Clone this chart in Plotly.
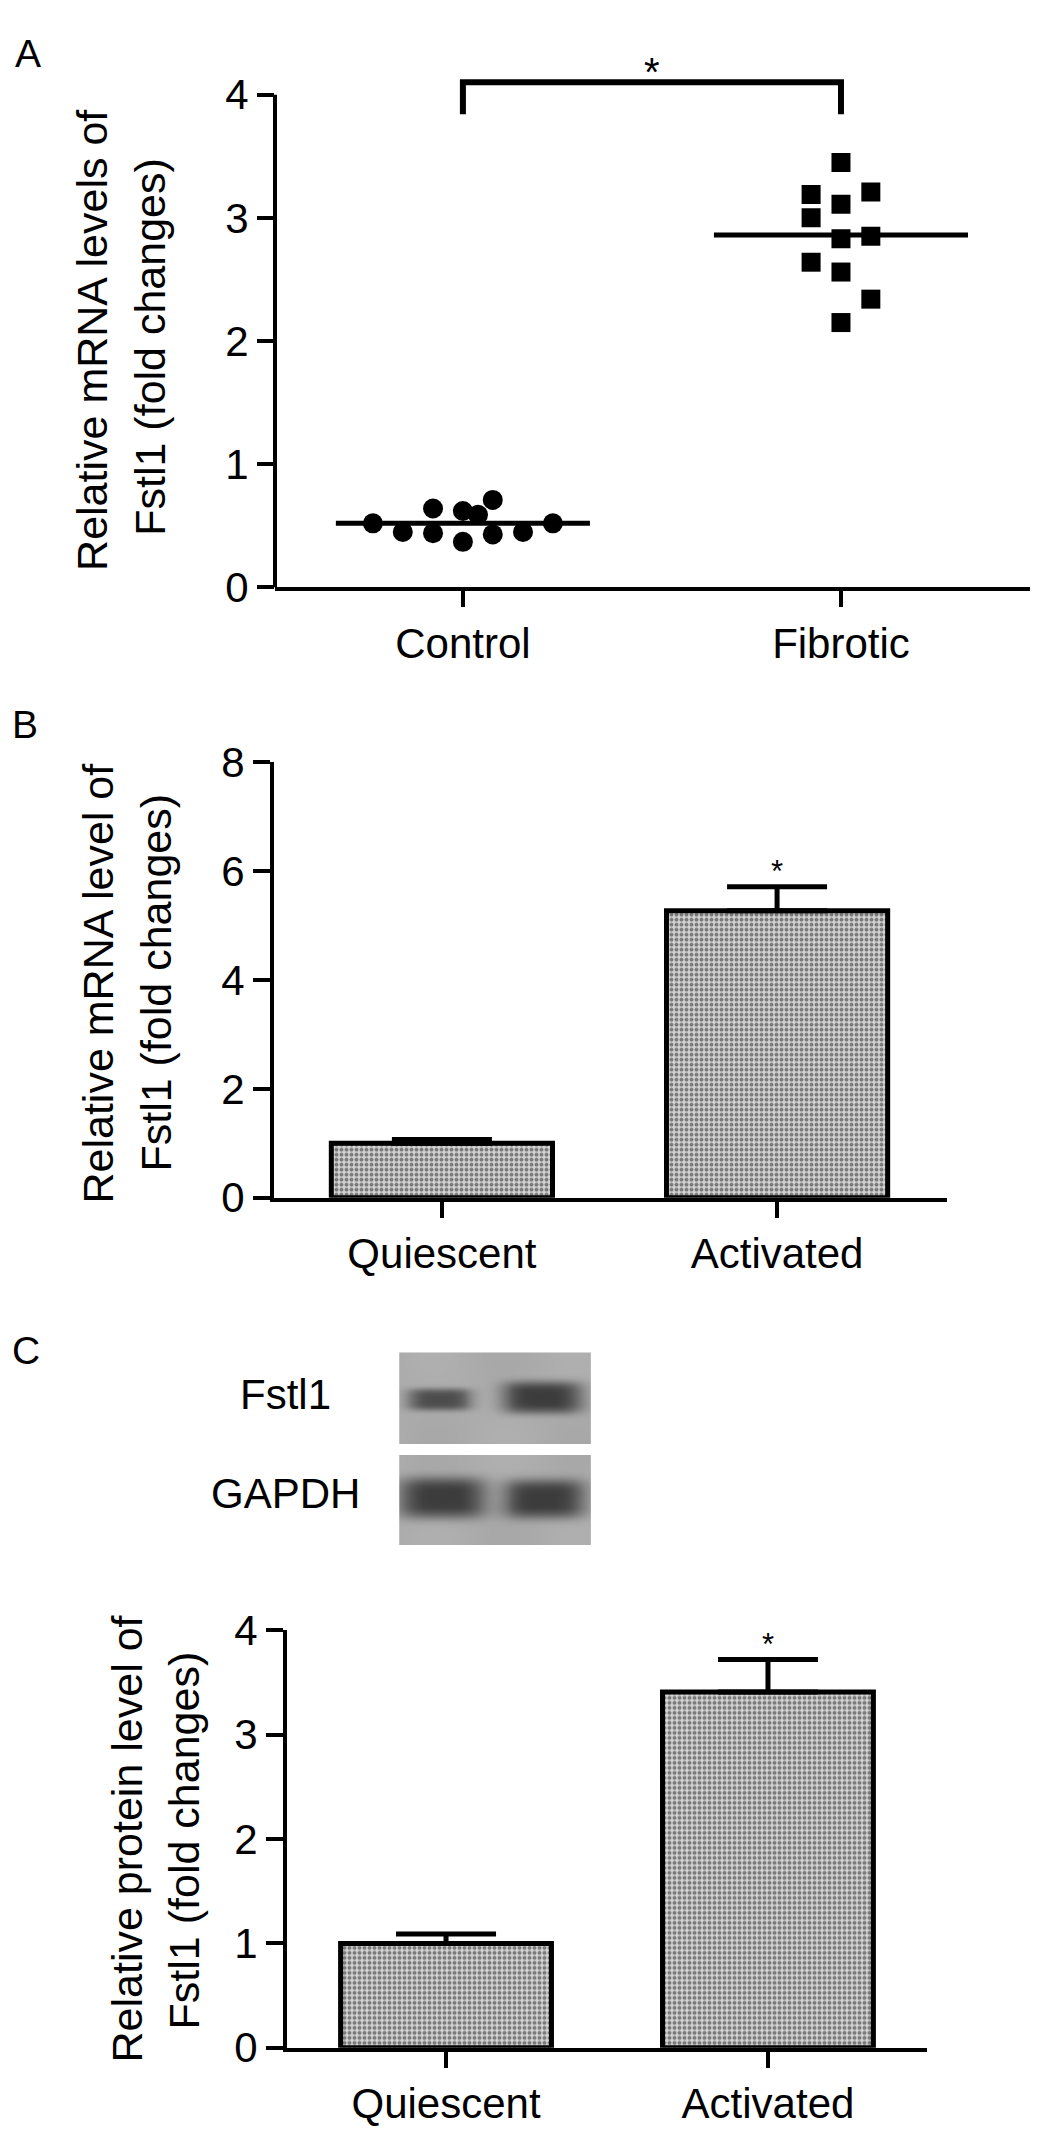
import numpy as np
import plotly.graph_objects as go

# ── Data ─────────────────────────────────────────────────────────────────────

# Panel A: individual samples (fold changes) with median lines
groups_a = ["Control", "Fibrotic"]
control_values = [0.52, 0.45, 0.64, 0.44, 0.62, 0.37, 0.59, 0.71, 0.43, 0.45, 0.52]
fibrotic_values = [3.45, 3.19, 3.21, 3.11, 3.00, 2.85, 2.83, 2.64, 2.56, 2.34, 2.15]
medians_a = [0.52, 2.86]
bracket_a = [3.84, 4.10]  # foot / top of significance bracket

# horizontal spread of the dots inside a column (category units)
control_jitter = [-0.238, -0.159, -0.079, -0.079, 0.0, 0.0, 0.04, 0.079, 0.079, 0.159, 0.238]
fibrotic_jitter = [0.0, -0.079, 0.079, 0.0, -0.079, 0.079, 0.0, -0.079, 0.0, 0.079, 0.0]

# Panel B / C: mean + SEM
groups_bc = ["Quiescent", "Activated"]
mrna_means = [1.0, 5.27]
mrna_sem = [0.07, 0.44]
protein_means = [1.0, 3.41]
protein_sem = [0.09, 0.31]

# Western blot: relative band density per lane
fstl1_density = [0.85, 1.00]
gapdh_density = [1.00, 1.00]

# ── Geometry helpers ─────────────────────────────────────────────────────────

W, H = 1044, 2151
FONT = "Liberation Sans, Arial, sans-serif"


def px_x(x):
    return x / W


def px_y(y):
    return 1 - y / H


BLACK = "#000000"
fig = go.Figure()

# ── Panel A ──────────────────────────────────────────────────────────────────

fig.add_trace(go.Scatter(
    x=[0 + j for j in control_jitter], y=control_values, mode="markers",
    marker=dict(symbol="circle", size=20, color=BLACK),
    xaxis="x", yaxis="y", hoverinfo="skip",
))
fig.add_trace(go.Scatter(
    x=[1 + j for j in fibrotic_jitter], y=fibrotic_values, mode="markers",
    marker=dict(symbol="square", size=19, color=BLACK),
    xaxis="x", yaxis="y", hoverinfo="skip",
))
for i, m in enumerate(medians_a):
    fig.add_trace(go.Scatter(
        x=[i - 0.336, i + 0.336], y=[m, m], mode="lines",
        line=dict(color=BLACK, width=5), xaxis="x", yaxis="y", hoverinfo="skip",
    ))
fig.add_trace(go.Scatter(
    x=[0, 0, 1, 1], y=[bracket_a[0], bracket_a[1], bracket_a[1], bracket_a[0]],
    mode="lines", line=dict(color=BLACK, width=6),
    xaxis="x", yaxis="y", hoverinfo="skip",
))

# ── Panels B and C (bars) ────────────────────────────────────────────────────

PATTERN = dict(shape=".", fgcolor="#202020", bgcolor="#d4d4d4", size=5, solidity=0.5)


def add_bars(means, sem, xa, ya, width):
    fig.add_trace(go.Bar(
        x=[0, 1], y=means, width=width,
        marker=dict(color="#ffffff", line=dict(color=BLACK, width=5), pattern=PATTERN),
        error_y=dict(type="data", array=sem, arrayminus=[0] * len(sem), symmetric=False,
                     thickness=5, width=50, color=BLACK),
        xaxis=xa, yaxis=ya, hoverinfo="skip",
    ))


add_bars(mrna_means, mrna_sem, "x2", "y2", 0.66)
add_bars(protein_means, protein_sem, "x3", "y3", 0.655)

# ── Western blot (synthetic rendering of the two strips) ─────────────────────

bw, bh = 196, 197
yy, xx = np.mgrid[0:bh, 0:bw].astype(float)
img = np.full((bh, bw), 172.0)
img += 4 * np.sin(xx / 23.0) * np.cos(yy / 31.0)


def band(cx, cy, ax, ay, density):
    return 112 * density * np.exp(-((np.abs(xx - cx) / ax) ** 4 + (np.abs(yy - cy) / ay) ** 4))


img -= band(41, 48, 33, 11, fstl1_density[0])
img -= band(146, 46, 41, 16, fstl1_density[1])
img -= band(44, 149, 45, 21, gapdh_density[0])
img -= band(148, 150, 42, 20, gapdh_density[1])
img[94:105, :] = 255
img = np.clip(img, 0, 255).astype(np.uint8)
rgb = np.stack([img, img, img], axis=-1)

fig.add_trace(go.Image(z=rgb.tolist(), xaxis="x4", yaxis="y4", hoverinfo="skip"))

# ── Axes ─────────────────────────────────────────────────────────────────────

tick_font = dict(family=FONT, size=42, color=BLACK)
common_x = dict(showgrid=False, zeroline=False, showline=True, linewidth=4, linecolor=BLACK,
                ticks="outside", ticklen=16, tickwidth=4, tickcolor=BLACK,
                tickfont=tick_font, tickvals=[0, 1], fixedrange=True)
common_y = dict(showgrid=False, zeroline=False, showline=True, linewidth=4, linecolor=BLACK,
                ticks="outside", ticklen=17, tickwidth=4, tickcolor=BLACK,
                tickfont=tick_font, fixedrange=True)

fig.update_layout(
    xaxis=dict(common_x, domain=[px_x(275), px_x(1030)], range=[-0.497, 1.5],
               ticktext=groups_a, anchor="y"),
    yaxis=dict(common_y, domain=[px_y(577), px_y(4)], range=[0, 4.55],
               tickvals=[0, 1, 2, 3, 4], showline=False, anchor="x"),
    xaxis2=dict(common_x, domain=[px_x(274), px_x(947)], range=[-0.501, 1.507],
                ticktext=groups_bc, anchor="y2"),
    yaxis2=dict(common_y, domain=[px_y(1201), px_y(755.7)], range=[0, 8],
                tickvals=[0, 2, 4, 6, 8], anchor="x2"),
    xaxis3=dict(common_x, domain=[px_x(287), px_x(927)], range=[-0.494, 1.494],
                ticktext=groups_bc, anchor="y3"),
    yaxis3=dict(common_y, domain=[px_y(2070), px_y(1643.3)], range=[0, 4],
                tickvals=[0, 1, 2, 3, 4], anchor="x3"),
    xaxis4=dict(domain=[px_x(397), px_x(593)], range=[-0.5, bw - 0.5], visible=False,
                anchor="y4", fixedrange=True),
    yaxis4=dict(domain=[px_y(1556), px_y(1359)], range=[bh - 0.5, -0.5], visible=False,
                anchor="x4", fixedrange=True),
)

# y-axis line of panel A stops at the last tick
fig.add_shape(type="line", xref="x domain", yref="y", x0=0, x1=0, y0=0, y1=4,
              line=dict(color=BLACK, width=4))

# ── Text ─────────────────────────────────────────────────────────────────────

def note(text, x, y, size=43, angle=0):
    fig.add_annotation(text=text, xref="paper", yref="paper", x=px_x(x), y=px_y(y),
                       xanchor="center", yanchor="middle", showarrow=False, textangle=angle,
                       font=dict(family=FONT, size=size, color=BLACK))


# panel letters
note("A", 28, 31, 39)
note("B", 25, 717, 39)
note("C", 26, 1357, 39)

# rotated y titles (two lines each)
note("Relative mRNA levels of", 92, 324, angle=-90)
note("Fstl1 (fold changes)", 150, 331, angle=-90)
note("Relative mRNA level of", 98, 982, angle=-90)
note("Fstl1 (fold changes)", 156, 981, angle=-90)
note("Relative protein level of", 127, 1856, angle=-90)
note("Fstl1 (fold changes)", 184, 1858, angle=-90)

# blot row labels
note("Fstl1", 285, 1402, 42)
note("GAPDH", 285, 1503, 42)

# significance stars
fig.add_annotation(text="*", x=0.5, y=bracket_a[1], xref="x", yref="y", showarrow=False,
                   yanchor="bottom", yshift=-14, font=dict(family=FONT, size=40, color=BLACK))
fig.add_annotation(text="*", x=1, y=mrna_means[1] + mrna_sem[1], xref="x2", yref="y2",
                   showarrow=False, yanchor="bottom", yshift=-4,
                   font=dict(family=FONT, size=31, color=BLACK))
fig.add_annotation(text="*", x=1, y=protein_means[1] + protein_sem[1], xref="x3", yref="y3",
                   showarrow=False, yanchor="bottom", yshift=-4,
                   font=dict(family=FONT, size=31, color=BLACK))

fig.update_layout(
    width=W, height=H, autosize=False,
    margin=dict(l=0, r=0, t=0, b=0),
    paper_bgcolor="#FFFFFF", plot_bgcolor="#FFFFFF",
    showlegend=False, bargap=0,
    font=dict(family=FONT, color=BLACK),
)

# the page's default body margin would push the 1044x2151 figure off the window
fig.write_html(
    "out.html",
    config={"displayModeBar": False, "staticPlot": True},
    post_script="document.body.style.margin='0px';document.body.style.overflow='hidden';",
)
